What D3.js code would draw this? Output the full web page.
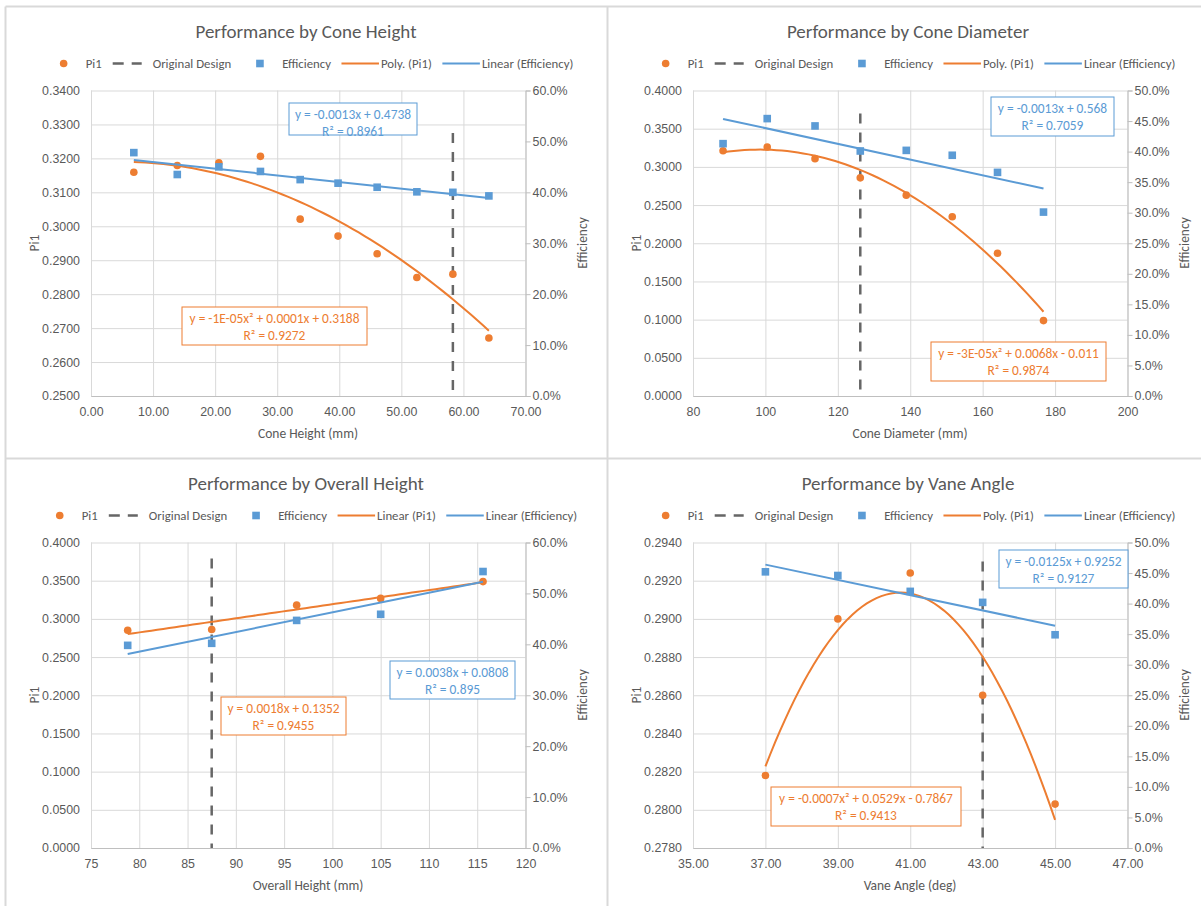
<!DOCTYPE html>
<html>
<head>
<meta charset="utf-8">
<script src="https://cdn.jsdelivr.net/npm/d3@7"></script>
<style>
  body { margin: 0; background: #fff; }
  svg { display: block; font-family: Carlito, Calibri, Lato, sans-serif; }
</style>
</head>
<body>
<svg id="chart" width="1201" height="906"></svg>
<script>
// ---- data ----
// cone height sweep
const coneHeight = [6.9, 13.9, 20.6, 27.3, 33.7, 39.8, 46.1, 52.5, 58.3, 64.1];
const coneHeightPi1 = [0.3159, 0.3179, 0.3187, 0.3206, 0.3021, 0.2971, 0.2919, 0.2849, 0.2859, 0.2671];
const coneHeightEff = [0.478, 0.435, 0.450, 0.441, 0.425, 0.418, 0.410, 0.401, 0.400, 0.393];

// cone diameter sweep
const coneDiam = [88.3, 100.5, 113.7, 126.2, 138.9, 151.6, 164.1, 176.8];
const coneDiamPi1 = [0.3212, 0.3260, 0.3108, 0.2856, 0.2630, 0.2347, 0.1869, 0.0987];
const coneDiamEff = [0.413, 0.454, 0.442, 0.401, 0.402, 0.394, 0.366, 0.301];

// overall height sweep
const overallHeight = [78.8, 87.5, 96.3, 105.0, 115.6];
const overallHeightPi1 = [0.2852, 0.2861, 0.3180, 0.3268, 0.3488];
const overallHeightEff = [0.398, 0.402, 0.447, 0.459, 0.543];

// vane angle sweep
const vaneAngle = [37, 39, 41, 43, 45];
const vaneAnglePi1 = [0.2818, 0.2900, 0.2924, 0.2860, 0.2803];
const vaneAngleEff = [0.452, 0.446, 0.420, 0.402, 0.349];

// original design marker (x position, top of the dashed line on Pi1 axis)
const designX = [58.3, 126.2, 87.5, 43.0];
const designTop = [0.3275, 0.370, 0.379, 0.2930];

// tick values
const xTicksConeHeight = [0, 10, 20, 30, 40, 50, 60, 70];
const yTicksConeHeight = [0.25, 0.26, 0.27, 0.28, 0.29, 0.30, 0.31, 0.32, 0.33, 0.34];
const xTicksConeDiam = [80, 100, 120, 140, 160, 180, 200];
const xTicksOverall = [75, 80, 85, 90, 95, 100, 105, 110, 115, 120];
const xTicksVane = [35, 37, 39, 41, 43, 45, 47];
const yTicksVane = [0.278, 0.280, 0.282, 0.284, 0.286, 0.288, 0.290, 0.292, 0.294];
const yTicks04 = [0, 0.05, 0.10, 0.15, 0.20, 0.25, 0.30, 0.35, 0.40];
const rTicks60 = [0, 0.1, 0.2, 0.3, 0.4, 0.5, 0.6];
const rTicks50 = [0, 0.05, 0.10, 0.15, 0.20, 0.25, 0.30, 0.35, 0.40, 0.45, 0.50];

// titles and trendline labels (as printed by the spreadsheet)
const titles = ["Performance by Cone Height", "Performance by Cone Diameter", "Performance by Overall Height", "Performance by Vane Angle"];
const xLabels = ["Cone Height (mm)", "Cone Diameter (mm)", "Overall Height (mm)", "Vane Angle (deg)"];
const effEquations = [["y = -0.0013x + 0.4738", "R² = 0.8961"], ["y = -0.0013x + 0.568", "R² = 0.7059"],
                      ["y = 0.0038x + 0.0808", "R² = 0.895"], ["y = -0.0125x + 0.9252", "R² = 0.9127"]];
const piEquations = [["y = -1E-05x² + 0.0001x + 0.3188", "R² = 0.9272"], ["y = -3E-05x² + 0.0068x - 0.011", "R² = 0.9874"],
                     ["y = 0.0018x + 0.1352", "R² = 0.9455"], ["y = -0.0007x² + 0.0529x - 0.7867", "R² = 0.9413"]];

const ORANGE = "#ed7d31", BLUE = "#5b9bd5", TEXT = "#595959", GRID = "#d9d9d9", AXIS = "#bfbfbf", DASH = "#666";

const panels = [
  { ox: 0, oy: 0, xs: coneHeight, pi: coneHeightPi1, eff: coneHeightEff, xTicks: xTicksConeHeight, xFmt: ".2f",
    yTicks: yTicksConeHeight, rTicks: rTicks60, piDeg: 2, effBox: [289, 103, 128, 32], piBox: [182, 307, 185, 38] },
  { ox: 602, oy: 0, xs: coneDiam, pi: coneDiamPi1, eff: coneDiamEff, xTicks: xTicksConeDiam, xFmt: "d",
    yTicks: yTicks04, rTicks: rTicks50, piDeg: 2, effBox: [389, 97, 123, 39], piBox: [329, 342, 175, 39] },
  { ox: 0, oy: 452, xs: overallHeight, pi: overallHeightPi1, eff: overallHeightEff, xTicks: xTicksOverall, xFmt: "d",
    yTicks: yTicks04, rTicks: rTicks60, piDeg: 1, effBox: [390, 209, 125, 38], piBox: [221, 245, 125, 38] },
  { ox: 602, oy: 452, xs: vaneAngle, pi: vaneAnglePi1, eff: vaneAngleEff, xTicks: xTicksVane, xFmt: ".2f",
    yTicks: yTicksVane, rTicks: rTicks50, piDeg: 2, effBox: [397, 98, 129, 38], piBox: [169, 335, 190, 39] }
];

// plot area inside each panel
const plot = { left: 91, right: 525.5, top: 90.5, bottom: 396 };
const tickFont = 12.4, labelFont = 13.5, legendFont = 12.8, eqFont = 13.4, titleFont = 19;

const svg = d3.select("#chart");

// panel borders
[[5.5, 6.5, 5.5, 906], [5.5, 6.5, 1201, 6.5], [607.5, 6.5, 607.5, 906], [5.5, 458.5, 1201, 458.5]].forEach(l => {
  svg.append("line").attr("x1", l[0]).attr("y1", l[1]).attr("x2", l[2]).attr("y2", l[3])
    .attr("stroke", GRID).attr("stroke-width", 2);
});

// least squares polynomial fit, returns coefficients c0..cn
function polyfit(xs, ys, deg) {
  const n = deg + 1;
  const A = [];
  for (let i = 0; i < n; i++) {
    A.push([]);
    for (let j = 0; j < n; j++) A[i].push(d3.sum(xs, x => Math.pow(x, i + j)));
    A[i].push(d3.sum(xs, (x, k) => ys[k] * Math.pow(x, i)));
  }
  for (let i = 0; i < n; i++) {
    let p = i;
    for (let r = i + 1; r < n; r++) if (Math.abs(A[r][i]) > Math.abs(A[p][i])) p = r;
    [A[i], A[p]] = [A[p], A[i]];
    for (let r = 0; r < n; r++) {
      if (r === i) continue;
      const f = A[r][i] / A[i][i];
      for (let c = i; c <= n; c++) A[r][c] -= f * A[i][c];
    }
  }
  return A.map((row, i) => row[n] / row[i]);
}
const polyval = (c, x) => c.reduce((s, v, i) => s + v * Math.pow(x, i), 0);

panels.forEach((p, i) => {
  const g = svg.append("g").attr("transform", `translate(${p.ox},${p.oy})`);
  const w = plot.right - plot.left, h = plot.bottom - plot.top;

  const x = d3.scaleLinear().domain(d3.extent(p.xTicks)).range([plot.left, plot.right]);
  const y = d3.scaleLinear().domain(d3.extent(p.yTicks)).range([plot.bottom, plot.top]);
  const r = d3.scaleLinear().domain(d3.extent(p.rTicks)).range([plot.bottom, plot.top]);

  // title
  g.append("text").attr("x", 306).attr("y", 37.5).attr("text-anchor", "middle")
    .attr("font-size", titleFont).attr("fill", TEXT).text(titles[i]);

  // gridlines
  g.append("g").attr("transform", `translate(${plot.left},0)`)
    .call(d3.axisLeft(y).tickValues(p.yTicks).tickSize(-w).tickFormat(""))
    .call(a => a.select(".domain").remove())
    .selectAll("line").attr("stroke", GRID);
  g.append("g").attr("transform", `translate(0,${plot.bottom})`)
    .call(d3.axisBottom(x).tickValues(p.xTicks).tickSize(-h).tickFormat(""))
    .call(a => a.select(".domain").remove())
    .selectAll("line").attr("stroke", GRID);

  // left axis labels
  g.append("g").attr("transform", `translate(${plot.left},0)`)
    .call(d3.axisLeft(y).tickValues(p.yTicks).tickFormat(d3.format(".4f")).tickSize(0).tickPadding(11))
    .call(a => a.select(".domain").remove())
    .selectAll("text").attr("fill", TEXT).attr("font-size", tickFont).attr("font-family", null);

  // bottom axis
  g.append("g").attr("transform", `translate(0,${plot.bottom})`)
    .call(d3.axisBottom(x).tickValues(p.xTicks).tickFormat(d3.format(p.xFmt)).tickSize(0).tickPadding(11.5))
    .call(a => a.select(".domain").attr("stroke", AXIS))
    .selectAll("text").attr("fill", TEXT).attr("font-size", tickFont).attr("font-family", null);

  // right axis
  g.append("g").attr("transform", `translate(${plot.right},0)`)
    .call(d3.axisRight(r).tickValues(p.rTicks).tickFormat(d3.format(".1%")).tickSizeOuter(0).tickSize(5).tickPadding(2))
    .call(a => a.select(".domain").attr("stroke", AXIS))
    .call(a => a.selectAll(".tick line").attr("stroke", AXIS))
    .selectAll("text").attr("fill", TEXT).attr("font-size", tickFont).attr("font-family", null);

  // axis titles
  g.append("text").attr("transform", "translate(34,243) rotate(-90)").attr("text-anchor", "middle")
    .attr("dominant-baseline", "central").attr("font-size", labelFont).attr("fill", TEXT).text("Pi1");
  g.append("text").attr("transform", "translate(582,243) rotate(-90)").attr("text-anchor", "middle")
    .attr("dominant-baseline", "central").attr("font-size", labelFont).attr("fill", TEXT).text("Efficiency");
  g.append("text").attr("x", 308).attr("y", 433.5).attr("text-anchor", "middle")
    .attr("dominant-baseline", "central").attr("font-size", labelFont).attr("fill", TEXT).text(xLabels[i]);

  const pts = p.xs.map((v, k) => ({ x: v, pi: p.pi[k], eff: p.eff[k] }));
  const [x0, x1] = d3.extent(p.xs);
  const samples = d3.range(61).map(k => x0 + (x1 - x0) * k / 60);

  // original design
  g.append("line").attr("x1", x(designX[i])).attr("x2", x(designX[i]))
    .attr("y1", y(designTop[i])).attr("y2", y(y.domain()[0]))
    .attr("stroke", DASH).attr("stroke-width", 2.5).attr("stroke-dasharray", "10,9");

  // Pi1 points + trend
  g.append("g").selectAll("circle").data(pts).join("circle")
    .attr("cx", d => x(d.x)).attr("cy", d => y(d.pi)).attr("r", 3.8).attr("fill", ORANGE);
  const cPi = polyfit(p.xs, p.pi, p.piDeg);
  g.append("path").datum(samples)
    .attr("d", d3.line().x(d => x(d)).y(d => y(polyval(cPi, d))))
    .attr("fill", "none").attr("stroke", ORANGE).attr("stroke-width", 2);

  // efficiency points + trend
  g.append("g").selectAll("rect").data(pts).join("rect")
    .attr("x", d => x(d.x) - 3.8).attr("y", d => r(d.eff) - 3.8)
    .attr("width", 7.6).attr("height", 7.6).attr("fill", BLUE);
  const cEff = polyfit(p.xs, p.eff, 1);
  g.append("path").datum([x0, x1])
    .attr("d", d3.line().x(d => x(d)).y(d => r(polyval(cEff, d))))
    .attr("fill", "none").attr("stroke", BLUE).attr("stroke-width", 2);

  // equation boxes
  [[p.effBox, effEquations[i], BLUE], [p.piBox, piEquations[i], ORANGE]].forEach(([b, lines, col]) => {
    g.append("rect").attr("x", b[0]).attr("y", b[1]).attr("width", b[2]).attr("height", b[3])
      .attr("fill", "#fff").attr("stroke", col).attr("stroke-width", 1);
    lines.forEach((t, k) => {
      g.append("text").attr("x", b[0] + b[2] / 2).attr("y", b[1] + 11.5 + k * 16.5)
        .attr("text-anchor", "middle").attr("dominant-baseline", "central")
        .attr("font-size", eqFont).attr("fill", col).text(t);
    });
  });

  // legend, laid out left to right and centred like the original
  const legend = [
    { sym: "circle", label: "Pi1" },
    { sym: "dash", label: "Original Design" },
    { sym: "square", label: "Efficiency" },
    { sym: "line", col: ORANGE, label: p.piDeg === 2 ? "Poly. (Pi1)" : "Linear (Pi1)" },
    { sym: "line", col: BLUE, label: "Linear (Efficiency)" }
  ];
  const lg = g.append("g");
  const ly = 63.5;
  let cx = 0;
  legend.forEach(e => {
    if (e.sym === "circle") {
      lg.append("circle").attr("cx", cx + 4).attr("cy", ly).attr("r", 3.8).attr("fill", ORANGE);
      cx += 26;
    } else if (e.sym === "dash") {
      cx += 11;
      lg.append("line").attr("x1", cx).attr("x2", cx + 29).attr("y1", ly).attr("y2", ly)
        .attr("stroke", DASH).attr("stroke-width", 2.5).attr("stroke-dasharray", "11,8");
      cx += 40;
    } else if (e.sym === "square") {
      cx += 25;
      lg.append("rect").attr("x", cx).attr("y", ly - 3.8).attr("width", 7.6).attr("height", 7.6).attr("fill", BLUE);
      cx += 26;
    } else {
      cx += 10.5;
      lg.append("line").attr("x1", cx).attr("x2", cx + 37.5).attr("y1", ly).attr("y2", ly)
        .attr("stroke", e.col).attr("stroke-width", 2);
      cx += 39.5;
    }
    const t = lg.append("text").attr("x", cx).attr("y", ly).attr("dominant-baseline", "central")
      .attr("font-size", legendFont).attr("fill", TEXT).text(e.label);
    cx += t.node().getComputedTextLength();
  });
  lg.attr("transform", `translate(${316.5 - cx / 2},0)`);
});
</script>
</body>
</html>
